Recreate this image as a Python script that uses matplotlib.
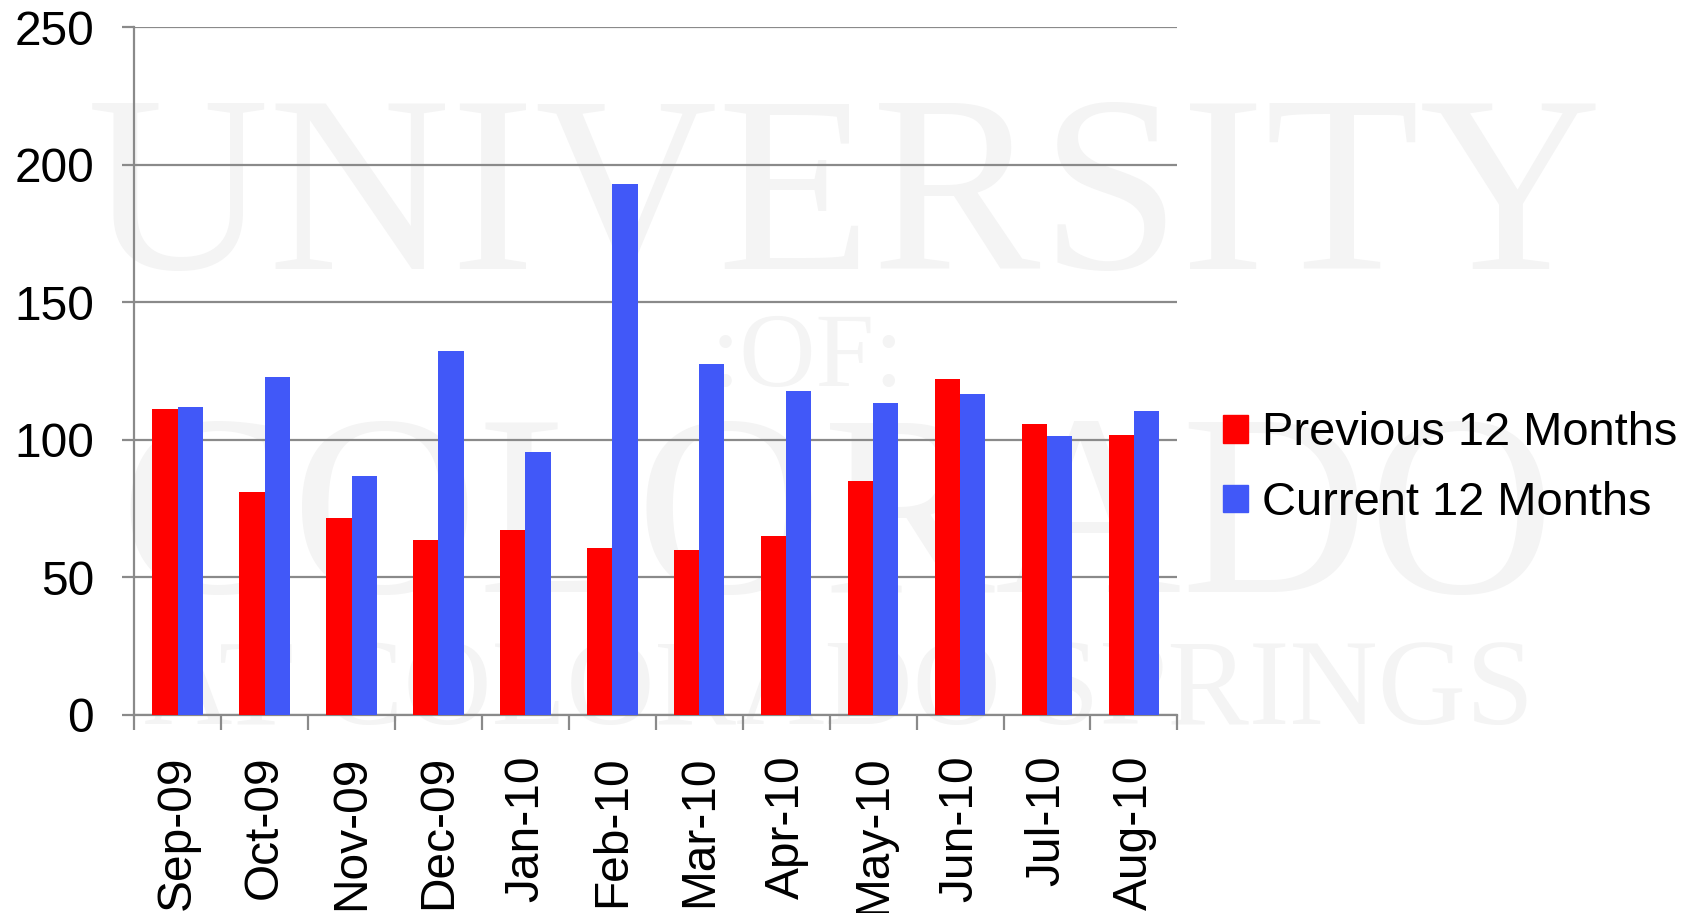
import numpy as np
import matplotlib
matplotlib.use("Agg")
import matplotlib.pyplot as plt
from matplotlib.patches import Patch

plt.rcParams['font.family'] = ['Liberation Sans', 'DejaVu Sans']

months = ['Sep-09', 'Oct-09', 'Nov-09', 'Dec-09', 'Jan-10', 'Feb-10',
          'Mar-10', 'Apr-10', 'May-10', 'Jun-10', 'Jul-10', 'Aug-10']
previous = [111.4, 80.9, 71.6, 63.6, 67.3, 60.6, 60.1, 64.9, 85.2, 122.2, 105.8, 101.7]
current = [112.1, 122.7, 86.9, 132.4, 95.6, 192.9, 127.5, 117.9, 113.5, 116.7, 101.4, 110.5]
series_names = ['Previous 12 Months', 'Current 12 Months']
colors = ['#ff0000', '#4158f8']

fig = plt.figure(figsize=(16.99, 9.13), dpi=100)
fig.patch.set_facecolor('white')

# faint watermark behind the chart
wm = '#f4f4f4'
fig.text(0.497, 0.772, 'UNIVERSITY', family='Liberation Serif', fontsize=182,
         color=wm, ha='center', va='center', zorder=0)
fig.text(0.475, 0.605, ':OF:', family='Liberation Serif', fontsize=76,
         color=wm, ha='center', va='center', zorder=0)
fig.text(0.493, 0.420, 'COLORADO', family='Liberation Serif', fontsize=186,
         color=wm, ha='center', va='center', zorder=0)
fig.text(0.494, 0.240, 'AT COLORADO SPRINGS', family='Liberation Serif', fontsize=88,
         color=wm, ha='center', va='center', zorder=0)

ax = fig.add_axes([0.079, 0.217, 0.614, 0.753])
ax.set_zorder(2)
ax.patch.set_alpha(0)

x = np.arange(len(months))
w = 0.29
ax.bar(x - w / 2, previous, w, color=colors[0], zorder=3)
ax.bar(x + w / 2, current, w, color=colors[1], zorder=3)

ax.set_ylim(0, 250)
ax.set_xlim(-0.5, len(months) - 0.5)
ax.set_yticks(range(0, 251, 50))
ax.yaxis.grid(True, color='#8a8a8a', linewidth=1.6, zorder=1)
ax.set_axisbelow(True)

ax.set_xticks(np.arange(-0.5, len(months), 1.0))
ax.set_xticklabels([])
ax.set_xticks(x, minor=True)
ax.set_xticklabels(months, minor=True, rotation=90)
ax.tick_params(axis='x', which='minor', length=0, pad=29, labelsize=34.5)
ax.tick_params(axis='x', which='major', length=11, width=1.6, color='#8a8a8a')
ax.tick_params(axis='y', length=9, width=1.6, color='#8a8a8a', pad=20, labelsize=34.5)

for s in ['top', 'right']:
    ax.spines[s].set_visible(False)
for s in ['left', 'bottom']:
    ax.spines[s].set_color('#8a8a8a')
    ax.spines[s].set_linewidth(1.6)

handles = [Patch(color=c) for c in colors]
leg = fig.legend(handles, series_names, loc='center left', bbox_to_anchor=(0.709, 0.487),
                 frameon=False, fontsize=33.8, handlelength=0.53, handleheight=0.53,
                 handletextpad=0.3, labelspacing=0.55, borderaxespad=0)
leg.set_zorder(3)

fig.savefig('out.png', dpi=100)
